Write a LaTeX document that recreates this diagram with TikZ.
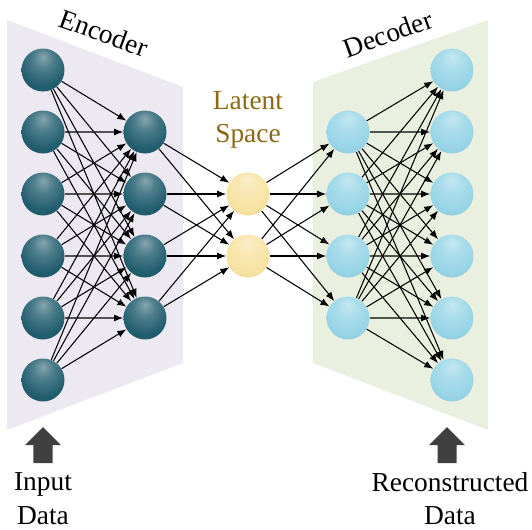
\documentclass[tikz,border=0pt]{standalone}
\usepackage{fontspec}
\setmainfont{Liberation Serif}
\usetikzlibrary{arrows.meta}
\definecolor{EncClr}{RGB}{33,93,110}
\definecolor{LatClr}{RGB}{247,226,160}
\definecolor{DecClr}{RGB}{150,212,230}
\definecolor{EncPanelClr}{RGB}{236,233,242}
\definecolor{DecPanelClr}{RGB}{234,240,223}
\definecolor{LatTextClr}{RGB}{139,105,20}
\definecolor{ArrowClr}{RGB}{64,64,64}

% glossy look of the neurons
\newcommand\DeclareNeuronShade[2]{%
\pgfdeclareradialshading{#1}{\pgfqpoint{0bp}{16bp}}{color(0bp)=(#2!55!white); color(12bp)=(#2!80!white); color(28bp)=(#2); color(46bp)=(#2!88!black); color(62bp)=(#2!65!black)}}
\DeclareNeuronShade{EncShade}{EncClr}
\DeclareNeuronShade{LatShade}{LatClr}
\DeclareNeuronShade{DecShade}{DecClr}

\begin{document}
\begin{tikzpicture}[
  neuron/.style={circle,minimum size=0.86cm,inner sep=0pt},
  enc/.style={neuron,shading=EncShade},
  lat/.style={neuron,shading=LatShade},
  dec/.style={neuron,shading=DecShade},
  link/.style={-{Latex[length=1.8mm,width=1.4mm]},line width=0.6pt},
  lbl/.style={font=\fontsize{15.6}{19}\selectfont,align=center,inner sep=0pt}]
\useasboundingbox (0,0) rectangle (10.64,10.58);

% panels
\fill[EncPanelClr] (0.14,10.18) -- (3.66,8.84) -- (3.66,3.32) -- (0.14,1.98) -- cycle;
\fill[DecPanelClr] (6.26,8.94) -- (9.76,10.18) -- (9.76,1.98) -- (6.26,3.32) -- cycle;

% layers
\foreach \i in {1,...,6} {
  \node[enc] (in\i) at (0.86,{9.18-1.24*(\i-1)}) {};
  \node[dec] (out\i) at (9.04,{9.18-1.24*(\i-1)}) {};
}
\foreach \i in {1,...,4} {
  \node[enc] (h\i) at (2.90,{7.94-1.24*(\i-1)}) {};
  \node[dec] (g\i) at (6.96,{7.94-1.24*(\i-1)}) {};
}
\foreach \i in {1,2}
  \node[lat] (z\i) at (4.96,{6.70-1.24*(\i-1)}) {};

% connections
\foreach \i in {1,...,6}
  \foreach \j in {1,...,4} {
    \draw[link] (in\i) -- (h\j);
    \draw[link] (g\j) -- (out\i);
  }
\foreach \i in {1,...,4}
  \foreach \j in {1,2} {
    \draw[link] (h\i) -- (z\j);
    \draw[link] (z\j) -- (g\i);
  }

% labels
\node[lbl,rotate=-20] (enclbl) at (2.08,9.92) {Encoder};
\node[lbl,rotate=20] (declbl) at (7.76,9.90) {Decoder};
\node[lbl,text=LatTextClr] (latlbl) at (4.96,8.18) {Latent\\Space};

% block arrows under the panels
\foreach \x in {0.86,8.94}
  \fill[ArrowClr] (\x,2.04) -- ++(-0.36,-0.36) -- ++(0.17,0) -- ++(0,-0.36)
    -- ++(0.38,0) -- ++(0,0.36) -- ++(0.17,0) -- cycle;
\node[lbl] (intxt) at (0.86,0.61) {Input\\Data};
\node[lbl] (outtxt) at (9.00,0.61) {Reconstructed\\Data};

\end{tikzpicture}
\end{document}
